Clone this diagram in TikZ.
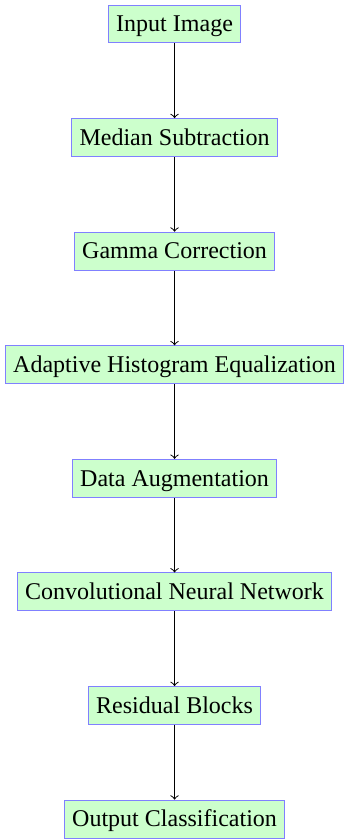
\documentclass[tikz,border=0pt]{standalone}
\usepackage{fontspec}
\setmainfont{Liberation Serif}
\usetikzlibrary{positioning}
\begin{document}
\begin{tikzpicture}[>=to,x=1pt,y=1pt,
    block/.style={draw=blue!50,fill=green!20,text=black,inner sep=3.33pt,
        text height=1.65ex,text depth=.25ex,minimum height=15.8pt}]
            \useasboundingbox (-72.7,10) rectangle (70.6,-339.4);
            \foreach \lab [count=\i from 0] in {Input Image,Median Subtraction,
                Gamma Correction,Adaptive Histogram Equalization,Data Augmentation,
                Convolutional Neural Network,Residual Blocks,Output Classification}
            \node[block] (b\i) at (0,-\i*47.3) {\lab};
            \foreach \i [count=\j from 1] in {0,...,6}
            \draw[->] (b\i) -- (b\j);
        \end{tikzpicture}
\end{document}
